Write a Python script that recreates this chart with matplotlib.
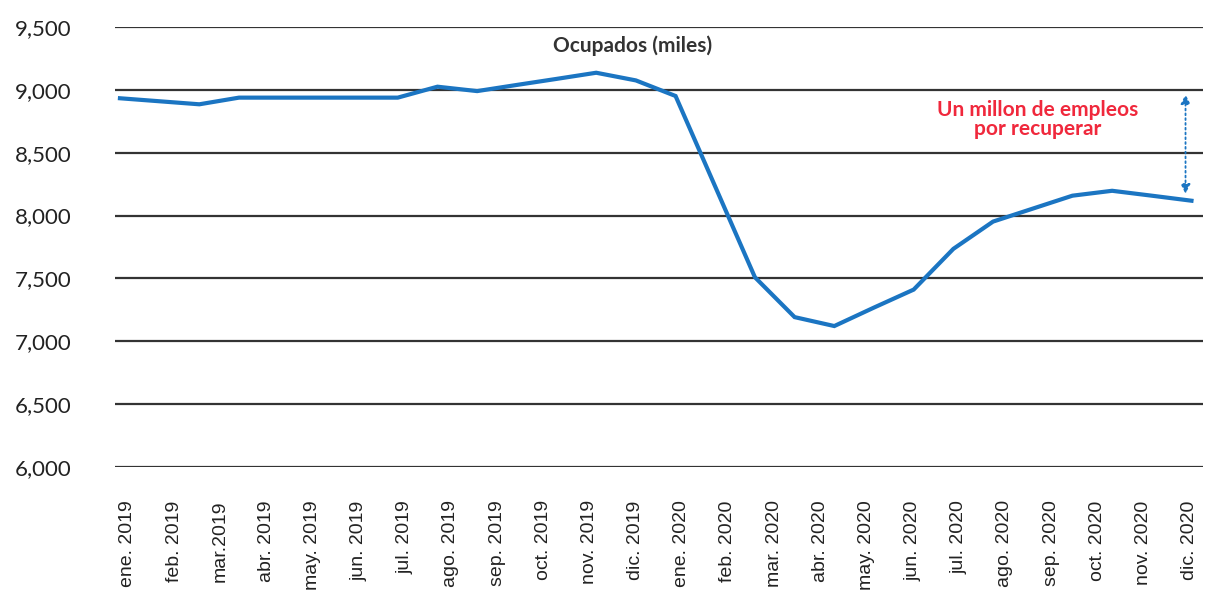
import numpy as np
import matplotlib
matplotlib.use("Agg")
from matplotlib import pyplot as plt

# ocupados (miles), 28 puntos de la serie
ocupados = [8933, 8909, 8885, 8938, 8938, 8938, 8938, 8938, 9025, 8990,
            9039, 9087, 9136, 9075, 8951, 8230, 7509, 7192, 7121, 7268,
            7411, 7735, 7952, 8055, 8158, 8197, 8158, 8118]

meses = ["ene. 2019", "feb. 2019", "mar.2019", "abr. 2019", "may. 2019", "jun. 2019",
         "jul. 2019", "ago. 2019", "sep. 2019", "oct. 2019", "nov. 2019", "dic. 2019",
         "ene. 2020", "feb. 2020", "mar. 2020", "abr. 2020", "may. 2020", "jun. 2020",
         "jul. 2020", "ago. 2020", "sep. 2020", "oct. 2020", "nov. 2020", "dic. 2020"]

yticks = [6000, 6500, 7000, 7500, 8000, 8500, 9000, 9500]

azul = "#1b75c2"

fig = plt.figure(figsize=(12.05, 5.97), dpi=100)
ax = fig.add_axes([0.0954, 0.2178, 0.9026, 0.737])

x = np.arange(len(ocupados))
ax.plot(x, ocupados, color=azul, lw=3, solid_joinstyle="miter", zorder=3)

ax.set_ylim(6000, 9500)
ax.set_xlim(-0.126, 27.28)
ax.set_yticks(yticks)
ax.set_yticklabels([f"{v:,}" for v in yticks], fontsize=16, family="Lato", color="#222222")
ax.yaxis.grid(True, color="#333333", lw=1.6)
ax.set_axisbelow(True)

ax.set_xticks(np.linspace(0.2, 26.95, len(meses)))
ax.set_xticklabels(meses, rotation=90, fontsize=14, family="Liberation Sans",
                   color="#222222", va="top", ha="center")

ax.tick_params(axis="y", length=0, pad=31)
ax.tick_params(axis="x", length=0, pad=24)
for s in ax.spines.values():
    s.set_visible(False)

ax.text(0.476, 0.958, "Ocupados (miles)", transform=ax.transAxes, ha="center", va="center",
        fontsize=15, fontweight="bold", family="Lato", color="#333333")

ax.text(0.848, 0.79, "Un millon de empleos\npor recuperar", transform=ax.transAxes,
        ha="center", va="center", fontsize=15, fontweight="bold", family="Lato",
        color="#f0283c", linespacing=0.95)

ax.annotate("", xy=(26.85, 8964), xytext=(26.85, 8173),
            arrowprops=dict(arrowstyle="<|-|>", color=azul, lw=1.3, linestyle=":",
                            mutation_scale=14, shrinkA=0, shrinkB=0))

fig.savefig("out.png", dpi=100)
